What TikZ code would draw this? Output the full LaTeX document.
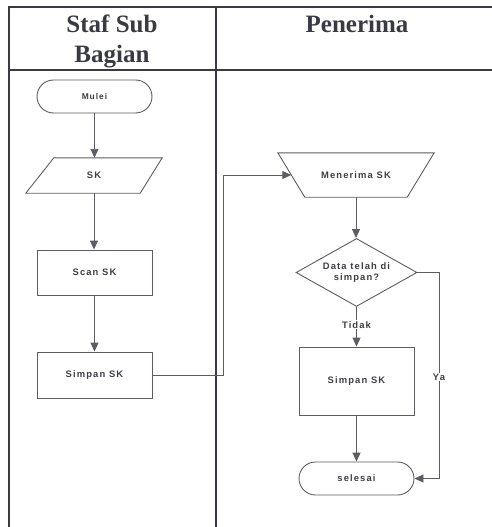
\documentclass[tikz,border=0pt]{standalone}
\usepackage{fontspec}
\setmainfont{Liberation Serif}
\newfontfamily\flowfont[LetterSpace=12,BoldFont={Liberation Sans Bold}]{Liberation Sans}
\usetikzlibrary{shapes.misc,shapes.geometric,arrows.meta,calc}
\definecolor{ln}{HTML}{5C5C64}
\definecolor{txt}{HTML}{3E3E46}
\definecolor{hdr}{HTML}{3A3A44}
\tikzset{
  tbl/.style={draw=hdr, line width=1.3pt},
  hdrtext/.style={font=\fontsize{25}{30}\selectfont\bfseries, text=hdr, align=center, inner sep=0pt},
  lbl/.style={font=\flowfont\bfseries\fontsize{9.4}{11.5}\selectfont, text=txt, align=center},
  procbox/.style={lbl, draw=ln, line width=0.9pt, rectangle, minimum width=115pt, inner sep=0pt},
  termbox/.style={lbl, draw=ln, line width=0.9pt, rounded rectangle, minimum width=115pt, minimum height=33pt, inner sep=0pt},
  ghost/.style={lbl, rectangle, inner sep=0pt},
  decbox/.style={lbl, draw=ln, line width=0.9pt, diamond, aspect=1.78, minimum width=121pt, minimum height=68pt, inner sep=0pt},
  arr/.style={draw=ln, line width=0.9pt, -{Triangle[length=9pt,width=8pt]}},
  tag/.style={lbl, fill=white, inner sep=1pt}
}
\begin{document}
\begin{tikzpicture}[x=1pt,y=-1pt]
\useasboundingbox (0,0) rectangle (492,527);

% swimlane table
\draw[tbl] (492,7) -- (9,7) -- (9,527);
\draw[tbl] (9,70) -- (492,70);
\draw[tbl] (216,7) -- (216,527);
\node[hdrtext] (lane1) at (112,41) {Staf Sub\\Bagian};
\node[hdrtext, anchor=base] (lane2) at (357,33) {Penerima};

% left lane
\node[termbox, font=\flowfont\bfseries\fontsize{8.4}{10}\selectfont] (mulai) at (94.5,96.5) {Mulei};
\node[ghost, minimum width=136pt, minimum height=35pt] (sk) at (94,175.5) {SK};
\draw[ln, line width=0.9pt] (sk.south west) -- ($(sk.north west)+(28,0)$) -- (sk.north east) -- ($(sk.south east)+(-22,0)$) -- cycle;
\node[procbox, minimum height=45pt] (scan) at (94.5,272.5) {Scan SK};
\node[procbox, minimum height=46pt] (simpan1) at (94.5,375) {Simpan SK};

% right lane
\node[ghost, minimum width=156pt, minimum height=44pt] (terima) at (356,175) {Menerima SK};
\draw[ln, line width=0.9pt] (terima.north west) -- (terima.north east) -- ($(terima.south east)+(-27,0)$) -- ($(terima.south west)+(27,0)$) -- cycle;
\coordinate (terimaL) at ($(terima.west)+(13.5,0)$);
\node[decbox] (cek) at (356.5,272.5) {Data telah di\\simpan?};
\node[procbox, minimum height=68pt] (simpan2) at (356.5,381) {Simpan SK};
\node[termbox] (selesai) at (356.5,478.5) {selesai};

% connectors
\draw[arr] (mulai.south) -- (mulai.south |- sk.north);
\draw[arr] (sk.south) -- (sk.south |- scan.north);
\draw[arr] (scan.south) -- (simpan1.north);
\draw[arr] (simpan1.east) -- ++(71,0) |- (terimaL);
\draw[arr] (terima.south) -- (terima.south |- cek.north);
\draw[arr] (cek.south) -- node[tag, pos=0.45] (tidak) {Tidak} (simpan2.north);
\draw[arr] (simpan2.south) -- (selesai.north);
\draw[arr] (cek.east) -- ++(22,0) |- (selesai.east);
\node[tag] (ya) at (439,377) {Ya};
\end{tikzpicture}
\end{document}
